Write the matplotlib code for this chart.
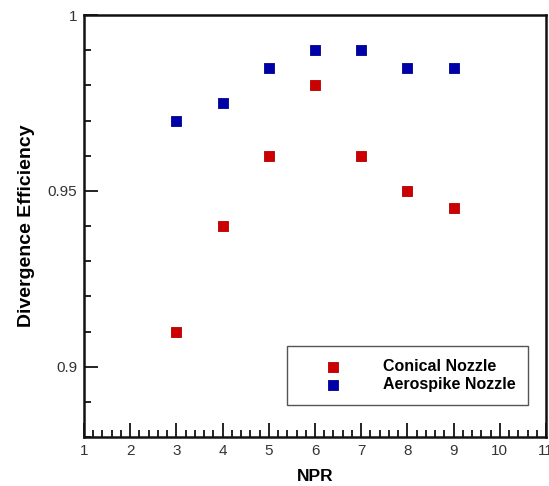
import matplotlib
matplotlib.use("Agg")
import matplotlib.pyplot as plt
from matplotlib.ticker import MultipleLocator

plt.rcParams['font.family'] = ['Liberation Sans', 'DejaVu Sans']

npr = [3, 4, 5, 6, 7, 8, 9]
conical = [0.910, 0.940, 0.960, 0.980, 0.960, 0.950, 0.945]
aerospike = [0.970, 0.975, 0.985, 0.990, 0.990, 0.985, 0.985]
x_ticks = list(range(1, 12))
y_ticks = [0.9, 0.95, 1.0]
y_ticklabels = ['0.9', '0.95', '1']

fig = plt.figure(figsize=(5.49, 4.86), dpi=100)
ax = fig.add_axes([84/549, 1 - 437/486, (546-84)/549, (437-15)/486])

ax.scatter(npr, conical, marker='s', s=62, color='#cc0000', edgecolors='#b00000',
           linewidths=0.6, label='Conical Nozzle', zorder=3)
ax.scatter(npr, aerospike, marker='s', s=62, color='#0000a8', edgecolors='#000090',
           linewidths=0.6, label='Aerospike Nozzle', zorder=3)

ax.set_xlim(1, 11)
ax.set_ylim(0.88, 1.0)
ax.set_xticks(x_ticks)
ax.set_xticklabels([str(v) for v in x_ticks])
ax.set_yticks(y_ticks)
ax.set_yticklabels(y_ticklabels)
ax.xaxis.set_minor_locator(MultipleLocator(0.2))
ax.yaxis.set_minor_locator(MultipleLocator(0.01))
ax.tick_params(which='both', direction='in', top=False, right=False,
               labelsize=11, labelcolor='#333333', width=1.3, color='#111111')
ax.tick_params(which='major', length=10, pad=5)
ax.tick_params(which='minor', length=5)
for sp in ax.spines.values():
    sp.set_linewidth(1.8)
    sp.set_color('#111111')

ax.set_xlabel('NPR', fontsize=12.5, fontweight='bold', labelpad=8)
ax.set_ylabel('Divergence Efficiency', fontsize=14, fontweight='bold', labelpad=9)

leg = ax.legend(loc='lower left', bbox_to_anchor=((287-84)/462, (437-405)/422),
                borderaxespad=0, fancybox=False, framealpha=1, edgecolor='#555555',
                prop={'weight': 'bold', 'size': 11.5}, handlelength=4.2, handletextpad=1.0,
                borderpad=0.8, labelspacing=0.2, markerscale=0.85)
leg.get_frame().set_linewidth(1.0)

fig.savefig('out.png', dpi=100, facecolor='white')
